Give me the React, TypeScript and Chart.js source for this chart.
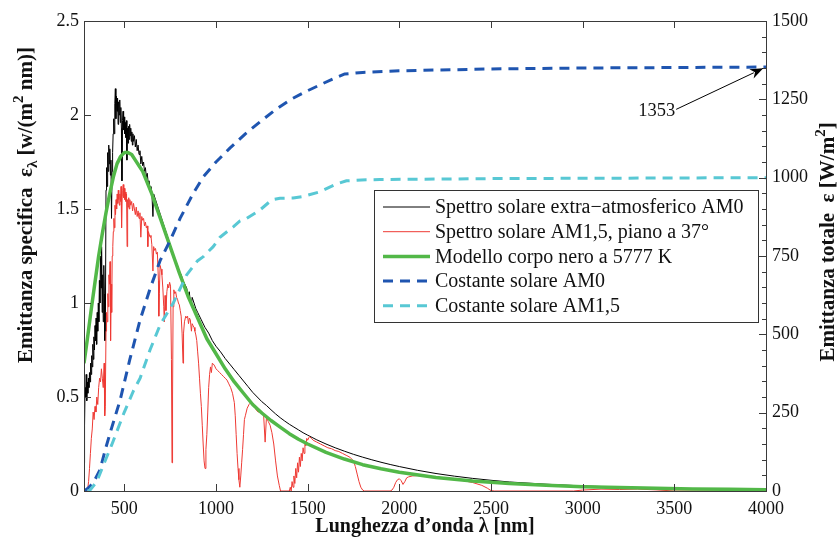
import React, { useEffect, useRef } from "react";
import { Chart, registerables } from "chart.js";

Chart.register(...registerables);

// ---------- tick labels ----------
const X_TICKS = [500, 1000, 1500, 2000, 2500, 3000, 3500, 4000];
const Y_LEFT_TICKS = [0, 0.5, 1, 1.5, 2, 2.5];
const Y_RIGHT_TICKS = [0, 250, 500, 750, 1000, 1250, 1500];
const Y_RIGHT_MINOR_STEP = 50;

// ---------- series: [wavelength nm, value] ----------
const AM0_SPECTRUM: [number, number][] = [
  [280, 0.15], [283, 0.35], [286, 0.55], [289, 0.5], [292, 0.62], [295, 0.48], [298, 0.58], [301, 0.52],
  [304, 0.6], [307, 0.55], [310, 0.63], [313, 0.58], [316, 0.68], [319, 0.62], [322, 0.72], [325, 0.66],
  [328, 0.78], [331, 0.7], [334, 0.82], [337, 0.75], [340, 0.88], [343, 0.8], [346, 0.92], [349, 0.78],
  [352, 0.95], [355, 0.85], [358, 1.0], [361, 0.9], [364, 1.12], [367, 1.0], [370, 1.25], [373, 1.08],
  [376, 1.3], [379, 0.95], [382, 1.15], [385, 0.9], [388, 1.2], [391, 1.05], [394, 0.8], [397, 0.95],
  [400, 1.6], [403, 1.72], [406, 1.62], [409, 1.8], [412, 1.7], [415, 1.84], [418, 1.74], [421, 1.82],
  [424, 1.68], [427, 1.76], [430, 1.45], [433, 1.7], [436, 1.8], [439, 1.9], [442, 1.98], [445, 1.9],
  [448, 2.06], [451, 2.14], [454, 1.98], [457, 2.1], [460, 2.02], [463, 2.09], [466, 1.95], [469, 2.07],
  [472, 2.0], [475, 2.08], [478, 1.96], [481, 2.04], [484, 1.93], [487, 1.65], [490, 1.97], [493, 2.02],
  [496, 1.92], [499, 1.99], [502, 1.9], [505, 1.96], [508, 1.88], [511, 1.97], [514, 1.76], [517, 1.93],
  [520, 1.85], [523, 1.94], [526, 1.87], [529, 1.95], [532, 1.89], [535, 1.93], [538, 1.86], [541, 1.91],
  [544, 1.84], [547, 1.9], [550, 1.86], [555, 1.89], [560, 1.83], [565, 1.87], [570, 1.81], [575, 1.84],
  [580, 1.79], [585, 1.81], [590, 1.74], [595, 1.78], [600, 1.73], [605, 1.75], [610, 1.7], [615, 1.72],
  [620, 1.67], [625, 1.69], [630, 1.64], [635, 1.65], [640, 1.61], [645, 1.62], [650, 1.59], [656, 1.46],
  [660, 1.58], [670, 1.55], [680, 1.52], [690, 1.49], [700, 1.46], [710, 1.43], [720, 1.4], [730, 1.37],
  [740, 1.34], [750, 1.31], [760, 1.28], [770, 1.25], [780, 1.22], [790, 1.2], [800, 1.17], [810, 1.15],
  [820, 1.12], [830, 1.1], [840, 1.08], [850, 1.03], [854, 1.06], [860, 1.01], [866, 0.99], [870, 1.03],
  [880, 1.0], [890, 0.97], [900, 0.95], [920, 0.91], [940, 0.87], [960, 0.84], [980, 0.8], [1000, 0.77],
  [1025, 0.74], [1050, 0.705], [1075, 0.675], [1100, 0.645], [1125, 0.615], [1150, 0.585], [1175, 0.555],
  [1200, 0.525], [1225, 0.5], [1250, 0.475], [1275, 0.455], [1300, 0.432], [1325, 0.41], [1350, 0.39],
  [1375, 0.372], [1400, 0.355], [1425, 0.34], [1450, 0.325], [1475, 0.31], [1500, 0.297], [1550, 0.272],
  [1600, 0.25], [1650, 0.23], [1700, 0.212], [1750, 0.195], [1800, 0.18], [1850, 0.166], [1900, 0.153],
  [1950, 0.141], [2000, 0.13], [2100, 0.11], [2200, 0.093], [2300, 0.079], [2400, 0.067], [2500, 0.057],
  [2600, 0.048], [2800, 0.036], [3000, 0.027], [3200, 0.021], [3400, 0.016], [3600, 0.012], [3800, 0.01],
  [4000, 0.008],
];

const AM15_SPECTRUM: [number, number][] = [
  [290, 0], [295, 0], [300, 0.01], [305, 0.05], [310, 0.12], [315, 0.2], [320, 0.28], [325, 0.33],
  [330, 0.42], [335, 0.38], [340, 0.45], [345, 0.42], [350, 0.5], [355, 0.46], [360, 0.55], [365, 0.6],
  [370, 0.58], [375, 0.65], [380, 0.6], [385, 0.55], [390, 0.68], [393, 0.4], [396, 0.45], [400, 0.85],
  [403, 0.95], [406, 0.9], [410, 1.05], [413, 0.98], [416, 1.15], [419, 1.1], [422, 1.22], [425, 0.8],
  [428, 1.1], [431, 0.95], [434, 1.25], [437, 1.3], [440, 1.38], [443, 1.45], [446, 1.4], [449, 1.52],
  [452, 1.47], [455, 1.55], [458, 1.5], [461, 1.58], [464, 1.53], [467, 1.6], [470, 1.55], [473, 1.52],
  [476, 1.58], [479, 1.54], [482, 1.62], [485, 1.4], [488, 1.57], [491, 1.6], [494, 1.63], [497, 1.56],
  [500, 1.61], [503, 1.55], [506, 1.59], [509, 1.54], [512, 1.58], [515, 1.3], [518, 1.55], [521, 1.51],
  [524, 1.56], [527, 1.5], [530, 1.55], [535, 1.52], [540, 1.54], [545, 1.49], [550, 1.53], [555, 1.5],
  [560, 1.47], [565, 1.51], [570, 1.46], [575, 1.49], [580, 1.45], [585, 1.48], [590, 1.35], [595, 1.46],
  [600, 1.44], [605, 1.45], [610, 1.41], [615, 1.43], [620, 1.4], [625, 1.41], [628, 1.3], [631, 1.38],
  [640, 1.35], [645, 1.36], [650, 1.31], [656, 1.17], [660, 1.3], [665, 1.28], [670, 1.29], [675, 1.26],
  [680, 1.27], [686, 1.12], [688, 0.93], [691, 1.05], [695, 1.2], [700, 1.18], [705, 1.15], [710, 1.08],
  [715, 0.98], [718, 0.9], [722, 1.04], [727, 0.96], [732, 1.06], [737, 1.1], [742, 1.08], [747, 1.11],
  [752, 1.09], [757, 0.7], [760, 0.15], [763, 0.5], [766, 0.98], [770, 1.07], [775, 1.05], [780, 1.06],
  [785, 1.03], [790, 1.02], [795, 1.0], [800, 0.99], [805, 0.96], [810, 0.93], [815, 0.84], [820, 0.68],
  [823, 0.84], [828, 0.9], [835, 0.93], [840, 0.92], [845, 0.93], [850, 0.89], [855, 0.92], [860, 0.91],
  [866, 0.85], [870, 0.89], [875, 0.88], [880, 0.87], [885, 0.85], [890, 0.83], [895, 0.8], [900, 0.74],
  [905, 0.68], [910, 0.6], [915, 0.52], [920, 0.45], [925, 0.35], [930, 0.25], [935, 0.16], [940, 0.12],
  [945, 0.22], [950, 0.3], [955, 0.42], [960, 0.55], [965, 0.62], [970, 0.66], [975, 0.63], [980, 0.68],
  [990, 0.67], [1000, 0.65], [1010, 0.64], [1020, 0.63], [1030, 0.62], [1040, 0.61], [1050, 0.6],
  [1060, 0.59], [1070, 0.57], [1080, 0.55], [1090, 0.52], [1100, 0.47], [1105, 0.4], [1110, 0.3],
  [1115, 0.2], [1120, 0.12], [1125, 0.06], [1130, 0.02], [1135, 0.08], [1140, 0.15], [1145, 0.22],
  [1150, 0.3], [1155, 0.38], [1160, 0.4], [1170, 0.44], [1180, 0.46], [1190, 0.47], [1200, 0.46],
  [1210, 0.45], [1220, 0.43], [1230, 0.42], [1240, 0.42], [1250, 0.41], [1260, 0.4], [1268, 0.26],
  [1275, 0.39], [1285, 0.37], [1295, 0.35], [1305, 0.31], [1315, 0.25], [1325, 0.16], [1335, 0.08],
  [1345, 0.03], [1352, 0], [1400, 0], [1405, 0.02], [1410, 0], [1415, 0.05], [1420, 0.02], [1425, 0.08],
  [1430, 0.04], [1435, 0.12], [1440, 0.07], [1445, 0.15], [1450, 0.1], [1455, 0.18], [1460, 0.13],
  [1465, 0.2], [1470, 0.16], [1475, 0.23], [1480, 0.2], [1485, 0.26], [1490, 0.24], [1495, 0.28],
  [1500, 0.27], [1510, 0.29], [1520, 0.28], [1530, 0.27], [1540, 0.265], [1550, 0.26], [1570, 0.25],
  [1590, 0.24], [1610, 0.23], [1630, 0.225], [1650, 0.215], [1670, 0.21], [1690, 0.2], [1710, 0.19],
  [1730, 0.18], [1750, 0.16], [1760, 0.13], [1770, 0.09], [1780, 0.05], [1790, 0.02], [1800, 0.005],
  [1810, 0], [1950, 0], [1960, 0.005], [1970, 0.02], [1980, 0.045], [1990, 0.06], [2000, 0.065],
  [2010, 0.055], [2020, 0.035], [2030, 0.05], [2040, 0.07], [2050, 0.075], [2070, 0.08], [2100, 0.082],
  [2150, 0.078], [2200, 0.072], [2250, 0.066], [2300, 0.06], [2350, 0.055], [2400, 0.045], [2450, 0.03],
  [2480, 0.015], [2500, 0.002], [2520, 0], [2950, 0], [3000, 0.005], [3100, 0.01], [3200, 0.008],
  [3300, 0.01], [3400, 0.006], [3500, 0], [4000, 0],
];

const BLACKBODY_5777K: [number, number][] = [
  [280, 0.68], [300, 0.82], [320, 0.97], [340, 1.11], [360, 1.25], [380, 1.37], [400, 1.48], [420, 1.58],
  [440, 1.67], [460, 1.74], [480, 1.78], [500, 1.8], [520, 1.8], [540, 1.79], [560, 1.76], [580, 1.73],
  [600, 1.7], [625, 1.64], [650, 1.58], [675, 1.51], [700, 1.44], [725, 1.37], [750, 1.3], [775, 1.23],
  [800, 1.16], [850, 1.03], [900, 0.92], [950, 0.81], [1000, 0.73], [1050, 0.65], [1100, 0.58],
  [1150, 0.52], [1200, 0.46], [1250, 0.415], [1300, 0.375], [1350, 0.34], [1400, 0.305], [1450, 0.275],
  [1500, 0.25], [1600, 0.205], [1700, 0.17], [1800, 0.14], [1900, 0.118], [2000, 0.1], [2200, 0.072],
  [2400, 0.053], [2600, 0.04], [2800, 0.03], [3000, 0.023], [3200, 0.018], [3400, 0.014], [3600, 0.011],
  [3800, 0.009], [4000, 0.007],
];

const CUMULATIVE_AM0: [number, number][] = [
  [280, 0], [300, 8], [330, 25], [367, 67], [400, 140], [430, 200], [477, 290], [530, 420], [586, 546],
  [640, 645], [695, 735], [750, 800], [804, 870], [876, 950], [931, 1003], [1000, 1050], [1077, 1095],
  [1160, 1140], [1240, 1178], [1320, 1215], [1403, 1248], [1480, 1272], [1567, 1296], [1640, 1316],
  [1703, 1331], [1800, 1336], [2000, 1341], [2500, 1347], [3000, 1350], [4000, 1353],
];

const CUMULATIVE_AM15: [number, number][] = [
  [300, 0], [313, 3], [350, 30], [386, 83], [431, 147], [500, 252], [550, 320], [586, 360], [640, 450],
  [695, 530], [767, 600], [840, 690], [900, 735], [931, 748], [985, 780], [1022, 810], [1094, 843],
  [1131, 862], [1167, 870], [1240, 897], [1304, 929], [1349, 934], [1421, 935], [1476, 940], [1567, 955],
  [1658, 980], [1712, 990], [1821, 993], [1894, 994], [2500, 997], [3000, 998], [4000, 1000],
];

const SERIES_LABELS = [
  "Spettro solare extra\u2212atmosferico AM0",
  "Spettro solare AM1,5, piano a 37\u00b0",
  "Modello corpo nero a 5777 K",
  "Costante solare AM0",
  "Costante solare AM1,5",
];

const ANNOTATION_TEXT = "1353";
const ANNOTATION_TAIL: [number, number] = [3510, 1218];
const ANNOTATION_TIP: [number, number] = [3985, 1349];

const COLORS = ["#000000", "#ee3a34", "#52b848", "#1f55b0", "#58c8d4"];
const FONT = "'Liberation Serif', 'Times New Roman', serif";

type Part = { t: string; k?: "sub" | "sup" };

function drawRich(ctx: CanvasRenderingContext2D, parts: Part[], cx: number, cy: number, size: number, rot: boolean) {
  ctx.save();
  ctx.translate(cx, cy);
  if (rot) ctx.rotate(-Math.PI / 2);
  const small = Math.round(size * 0.7);
  let w = 0;
  for (const p of parts) {
    ctx.font = `bold ${p.k ? small : size}px ${FONT}`;
    w += ctx.measureText(p.t).width;
  }
  let x = -w / 2;
  ctx.fillStyle = "#111";
  ctx.textBaseline = "middle";
  ctx.textAlign = "left";
  for (const p of parts) {
    ctx.font = `bold ${p.k ? small : size}px ${FONT}`;
    const dy = p.k === "sub" ? size * 0.3 : p.k === "sup" ? -size * 0.38 : 0;
    ctx.fillText(p.t, x, dy);
    x += ctx.measureText(p.t).width;
  }
  ctx.restore();
}

const decorPlugin = {
  id: "decor",
  afterDatasetsDraw(chart: any) {
    const { ctx, chartArea: a, scales } = chart;
    const xs = scales.x, yl = scales.y, yr = scales.y2;
    ctx.save();
    // frame and inward ticks
    ctx.strokeStyle = "#3a3a3a";
    ctx.lineWidth = 1;
    ctx.beginPath();
    for (const v of X_TICKS) {
      const px = Math.round(xs.getPixelForValue(v)) + 0.5;
      ctx.moveTo(px, a.bottom);
      ctx.lineTo(px, a.bottom - 7);
      ctx.moveTo(px, a.top);
      ctx.lineTo(px, a.top + 7);
    }
    for (const v of Y_LEFT_TICKS) {
      const py = Math.round(yl.getPixelForValue(v)) + 0.5;
      ctx.moveTo(a.left, py);
      ctx.lineTo(a.left + 7, py);
    }
    const rMax = Y_RIGHT_TICKS[Y_RIGHT_TICKS.length - 1];
    for (let v = 0; v <= rMax; v += Y_RIGHT_MINOR_STEP) {
      const py = Math.round(yr.getPixelForValue(v)) + 0.5;
      const len = Y_RIGHT_TICKS.includes(v) ? 7 : 4;
      ctx.moveTo(a.right, py);
      ctx.lineTo(a.right - len, py);
    }
    ctx.stroke();
    ctx.strokeRect(Math.round(a.left) + 0.5, Math.round(a.top) + 0.5, Math.round(a.right - a.left), Math.round(a.bottom - a.top));

    // annotation arrow
    const tx = xs.getPixelForValue(ANNOTATION_TAIL[0]);
    const ty = yr.getPixelForValue(ANNOTATION_TAIL[1]);
    const hx = xs.getPixelForValue(ANNOTATION_TIP[0]);
    const hy = yr.getPixelForValue(ANNOTATION_TIP[1]);
    const ang = Math.atan2(hy - ty, hx - tx);
    const hl = 13, hw = 5;
    ctx.strokeStyle = "#000";
    ctx.lineWidth = 1;
    ctx.beginPath();
    ctx.moveTo(tx, ty);
    ctx.lineTo(hx - Math.cos(ang) * hl * 0.8, hy - Math.sin(ang) * hl * 0.8);
    ctx.stroke();
    ctx.fillStyle = "#000";
    ctx.beginPath();
    ctx.moveTo(hx, hy);
    ctx.lineTo(hx - Math.cos(ang) * hl - Math.sin(ang) * hw, hy - Math.sin(ang) * hl + Math.cos(ang) * hw);
    ctx.lineTo(hx - Math.cos(ang) * hl * 0.7, hy - Math.sin(ang) * hl * 0.7);
    ctx.lineTo(hx - Math.cos(ang) * hl + Math.sin(ang) * hw, hy - Math.sin(ang) * hl - Math.cos(ang) * hw);
    ctx.closePath();
    ctx.fill();
    ctx.font = `18.5px ${FONT}`;
    ctx.textAlign = "right";
    ctx.textBaseline = "middle";
    ctx.fillStyle = "#111";
    ctx.fillText(ANNOTATION_TEXT, tx - 1, ty + 2);

    // legend
    const lx = 374, ly = 190, lw = 384, lh = 132;
    ctx.fillStyle = "#fff";
    ctx.fillRect(lx, ly, lw, lh);
    ctx.strokeStyle = "#333";
    ctx.strokeRect(lx + 0.5, ly + 0.5, lw, lh);
    chart.data.datasets.forEach((ds: any, i: number) => {
      const y = ly + 17 + i * 24.7;
      ctx.save();
      ctx.strokeStyle = ds.borderColor;
      ctx.lineWidth = ds.borderWidth;
      ctx.setLineDash(ds.borderDash || []);
      ctx.beginPath();
      ctx.moveTo(lx + 9, y);
      ctx.lineTo(lx + 56, y);
      ctx.stroke();
      ctx.restore();
      ctx.font = `20px ${FONT}`;
      ctx.textAlign = "left";
      ctx.textBaseline = "middle";
      ctx.fillStyle = "#111";
      ctx.fillText(ds.label, lx + 61, y + 1);
    });

    // axis titles
    drawRich(ctx, [{ t: "Lunghezza d\u2019onda \u03bb [nm]" }], (a.left + a.right) / 2, 527, 20, false);
    drawRich(
      ctx,
      [{ t: "Emittanza specifica  \u03b5" }, { t: "\u03bb", k: "sub" }, { t: " [w/(m" }, { t: "2", k: "sup" }, { t: " nm)]" }],
      27, 205, 21, true
    );
    drawRich(
      ctx,
      [{ t: "Emittanza totale  \u03b5 [W/m" }, { t: "2", k: "sup" }, { t: "]" }],
      829, 242, 21, true
    );
    ctx.restore();
  },
};

const pts = (arr: [number, number][]) => arr.map(([x, y]) => ({ x, y }));

export default function App() {
  const ref = useRef<HTMLCanvasElement | null>(null);
  useEffect(() => {
    if (!ref.current) return;
    const tickFont = { family: FONT, size: 18 };
    const chart = new Chart(ref.current, {
      type: "line",
      data: {
        datasets: [
          { label: SERIES_LABELS[0], data: pts(AM0_SPECTRUM), borderColor: COLORS[0], borderWidth: 1, yAxisID: "y", order: 4 },
          { label: SERIES_LABELS[1], data: pts(AM15_SPECTRUM), borderColor: COLORS[1], borderWidth: 1, yAxisID: "y", order: 3 },
          { label: SERIES_LABELS[2], data: pts(BLACKBODY_5777K), borderColor: COLORS[2], borderWidth: 3.5, yAxisID: "y", order: 2 },
          { label: SERIES_LABELS[3], data: pts(CUMULATIVE_AM0), borderColor: COLORS[3], borderWidth: 3, borderDash: [10, 7], yAxisID: "y2", order: 1 },
          { label: SERIES_LABELS[4], data: pts(CUMULATIVE_AM15), borderColor: COLORS[4], borderWidth: 3, borderDash: [10, 7], yAxisID: "y2", order: 0 },
        ] as any,
      },
      options: {
        animation: false,
        responsive: false,
        events: [],
        parsing: false,
        normalized: true,
        elements: { point: { radius: 0 }, line: { tension: 0, borderJoinStyle: "round" } },
        layout: { padding: { top: 21, left: 0, right: 0, bottom: 0 } },
        plugins: { legend: { display: false }, tooltip: { enabled: false }, title: { display: false } },
        scales: {
          x: {
            type: "linear",
            min: 280,
            max: 4000,
            grid: { display: false, drawTicks: false },
            border: { display: false },
            afterBuildTicks: (s: any) => { s.ticks = X_TICKS.map((v) => ({ value: v })); },
            afterFit: (s: any) => { s.height = 47; },
            ticks: { font: tickFont, color: "#111", padding: 7, maxRotation: 0, autoSkip: false, callback: (v: any) => String(v) },
          },
          y: {
            type: "linear",
            position: "left",
            min: 0,
            max: 2.5,
            grid: { display: false, drawTicks: false },
            border: { display: false },
            afterBuildTicks: (s: any) => { s.ticks = Y_LEFT_TICKS.map((v) => ({ value: v })); },
            afterFit: (s: any) => { s.width = 84; },
            ticks: { font: tickFont, color: "#111", padding: 5, callback: (v: any) => String(v) },
          },
          y2: {
            type: "linear",
            position: "right",
            min: 0,
            max: 1500,
            grid: { display: false, drawTicks: false },
            border: { display: false },
            afterBuildTicks: (s: any) => { s.ticks = Y_RIGHT_TICKS.map((v) => ({ value: v })); },
            afterFit: (s: any) => { s.width = 74; },
            ticks: { font: tickFont, color: "#111", padding: 6, callback: (v: any) => String(v) },
          },
        },
      } as any,
      plugins: [decorPlugin],
    });
    return () => chart.destroy();
  }, []);
  return (
    <div style={{ position: "absolute", left: 0, top: 0, width: 840, height: 538, background: "#fff" }}>
      <canvas ref={ref} width={840} height={538} style={{ display: "block" }} />
    </div>
  );
}
